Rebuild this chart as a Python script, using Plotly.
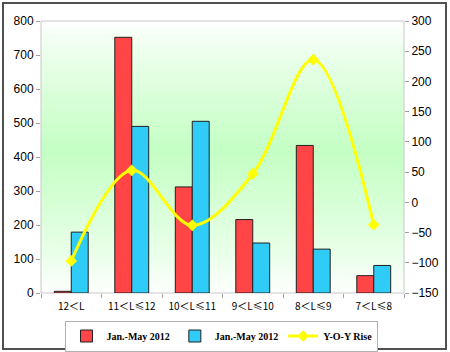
import plotly.graph_objects as go

categories = ["12＜L", "11＜L≤12", "10＜L≤11", "9＜L≤10", "8＜L≤9", "7＜L≤8"]
sales_2012 = [5, 752, 312, 216, 434, 51]
sales_2011 = [179, 490, 505, 147, 129, 81]
yoy_rise = [-97, 53, -38, 47, 236, -37]

left_ticks = [0, 100, 200, 300, 400, 500, 600, 700, 800]
right_ticks = [-150, -100, -50, 0, 50, 100, 150, 200, 250, 300]

fig = go.Figure()
fig.add_trace(go.Bar(x=categories, y=sales_2012, name="Jan.-May 2012",
                     marker=dict(color="#FF4545", line=dict(color="#202020", width=1))))
fig.add_trace(go.Bar(x=categories, y=sales_2011, name="Jan.-May 2012",
                     marker=dict(color="#30CCF8", line=dict(color="#202020", width=1))))
fig.add_trace(go.Scatter(x=categories, y=yoy_rise, name="Y-O-Y Rise", yaxis="y2",
                         mode="lines+markers", line=dict(color="#FFFF00", width=3, shape="spline", smoothing=1.0),
                         marker=dict(symbol="diamond", size=9, color="#FFFF00")))

shapes = []
n = 60
for i in range(n):
    f0 = i / n
    f1 = (i + 1) / n
    fm = (f0 + f1) / 2
    peak = 0.52
    if fm >= peak:
        g = 1 - (fm - peak) / (1 - peak)
    else:
        g = 1 - (peak - fm) / peak
    g = max(0.0, min(1.0, g)) ** 0.8
    r = int(round(255 - (255 - 196) * g))
    gg = 255
    b = int(round(255 - (255 - 196) * g))
    shapes.append(dict(type="rect", xref="paper", yref="paper", x0=0, x1=1, y0=f0, y1=f1 + 0.002,
                       fillcolor=f"rgb({r},{gg},{b})", line=dict(width=0), layer="below"))
# plot area border
shapes.append(dict(type="rect", xref="paper", yref="paper", x0=0, x1=1, y0=0, y1=1,
                   line=dict(color="#C8C8C8", width=1), layer="below"))
# outer chart border
shapes.append(dict(type="rect", xref="paper", yref="paper",
                   x0=(3 - 41) / 363, x1=(446 - 41) / 363, y0=(293 - 349) / 272, y1=(293 - 3) / 272,
                   line=dict(color="#505050", width=2), layer="above"))

fig.update_layout(
    width=450, height=352,
    margin=dict(l=41, r=46, t=21, b=59, autoexpand=False),
    paper_bgcolor="white", plot_bgcolor="white",
    barmode="group", bargap=0.44, bargroupgap=0,
    shapes=shapes,
    showlegend=True,
    legend=dict(orientation="h", x=0.4986, xanchor="center",
                yref="container", y=1 - 336 / 352, yanchor="middle",
                bordercolor="#B0B0B0", borderwidth=1, bgcolor="white",
                font=dict(family="Liberation Serif", size=10, color="#000", weight="bold"),
                itemwidth=30, tracegroupgap=0),
    xaxis=dict(showgrid=False, ticks="outside", tickson="boundaries", ticklen=4, tickcolor="#A0A0A0",
               tickangle=0, showline=False, ticklabelstandoff=6,
               tickfont=dict(family="Noto Sans CJK SC", size=10, color="#000")),
    yaxis=dict(range=[0, 800], tickvals=left_ticks, showgrid=False, zeroline=False,
               ticks="outside", ticklen=4, tickcolor="#A0A0A0",
               tickfont=dict(family="Liberation Sans", size=12, color="#000")),
    yaxis2=dict(range=[-150, 300], tickvals=right_ticks, overlaying="y", side="right",
                showgrid=False, zeroline=False, ticks="outside", ticklen=4, tickcolor="#A0A0A0",
                tickfont=dict(family="Liberation Sans", size=12, color="#000")),
)

fig.write_html("out.html")
